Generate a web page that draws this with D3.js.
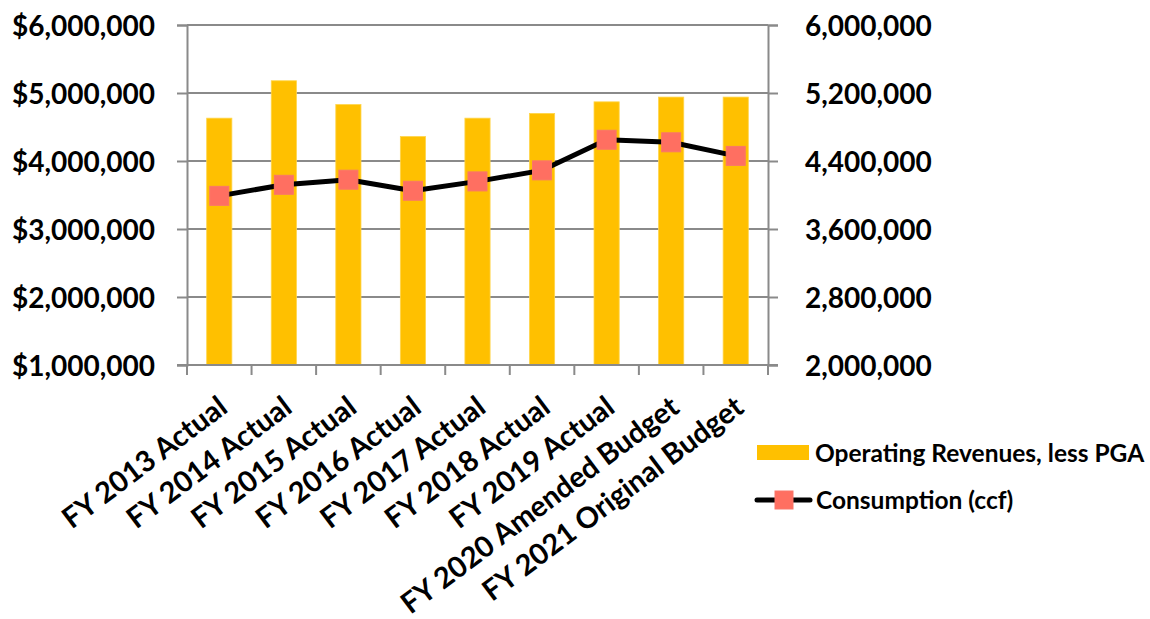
<!DOCTYPE html>
<html>
<head>
<meta charset="utf-8">
<script src="https://cdn.jsdelivr.net/npm/d3@7"></script>
<style>
  html, body { margin: 0; padding: 0; background: #fff; }
  svg { display: block; }
  text { font-family: Lato, "Open Sans", sans-serif; font-weight: 700; fill: #000; }
</style>
</head>
<body>
<svg id="chart" width="1150" height="619"></svg>
<script>
// Fiscal years shown along the category axis
const categories = [
  "FY 2013 Actual", "FY 2014 Actual", "FY 2015 Actual", "FY 2016 Actual",
  "FY 2017 Actual", "FY 2018 Actual", "FY 2019 Actual",
  "FY 2020 Amended Budget", "FY 2021 Original Budget"
];
// Operating revenues, less PGA (dollars) - left axis
const revenues = [4630000, 5180000, 4830000, 4360000, 4630000, 4700000, 4870000, 4940000, 4940000];
// Consumption in ccf - right axis
const consumption = [3990000, 4120000, 4180000, 4050000, 4160000, 4290000, 4650000, 4620000, 4460000];
// Axis ticks
const leftTicks = [1000000, 2000000, 3000000, 4000000, 5000000, 6000000];
const rightTicks = [2000000, 2800000, 3600000, 4400000, 5200000, 6000000];
const seriesNames = ["Operating Revenues, less PGA", "Consumption (ccf)"];

const svg = d3.select("#chart");
const plot = { left: 187, right: 768, top: 25, bottom: 365 };
const gridColor = "#8a8a8a";

const x = d3.scaleBand().domain(categories).range([plot.left, plot.right]).paddingInner(0.61).paddingOuter(0.305);
const xOuter = d3.scaleBand().domain(categories).range([plot.left, plot.right]);
const yL = d3.scaleLinear().domain([1000000, 6000000]).range([plot.bottom, plot.top]);
const yR = d3.scaleLinear().domain([2000000, 6000000]).range([plot.bottom, plot.top]);

// Horizontal gridlines
svg.append("g").selectAll("line").data(leftTicks).join("line")
  .attr("x1", plot.left).attr("x2", plot.right)
  .attr("y1", d => yL(d)).attr("y2", d => yL(d))
  .attr("stroke", gridColor).attr("stroke-width", 2);

// Bars
svg.append("g").selectAll("rect").data(revenues).join("rect")
  .attr("x", (d, i) => x(categories[i]))
  .attr("width", x.bandwidth())
  .attr("y", d => yL(d))
  .attr("height", d => yL(1000000) - yL(d))
  .attr("fill", "#FFC000")
  .attr("stroke", "#FFD54A").attr("stroke-width", 0.8);

// Left axis
const leftAxis = svg.append("g").attr("transform", `translate(${plot.left},0)`)
  .call(d3.axisLeft(yL).tickValues(leftTicks).tickFormat(d3.format("$,")).tickSize(10).tickPadding(22));
leftAxis.select(".domain").attr("stroke", gridColor).attr("stroke-width", 2);
leftAxis.selectAll(".tick line").attr("stroke", gridColor).attr("stroke-width", 2);
leftAxis.selectAll(".tick text").attr("font-size", 28).attr("font-family", null).attr("dy", "0.36em");

// Right axis
const rightAxis = svg.append("g").attr("transform", `translate(${plot.right},0)`)
  .call(d3.axisRight(yR).tickValues(rightTicks).tickFormat(d3.format(",")).tickSize(10).tickPadding(27));
rightAxis.select(".domain").attr("stroke", gridColor).attr("stroke-width", 2);
rightAxis.selectAll(".tick line").attr("stroke", gridColor).attr("stroke-width", 2);
rightAxis.selectAll(".tick text").attr("font-size", 28).attr("font-family", null).attr("dy", "0.36em");

// Category axis baseline with ticks at category boundaries
svg.append("line")
  .attr("x1", plot.left - 10).attr("x2", plot.right + 10)
  .attr("y1", plot.bottom).attr("y2", plot.bottom)
  .attr("stroke", gridColor).attr("stroke-width", 2);
const boundaries = categories.map(c => xOuter(c)).concat([plot.right]);
svg.append("g").selectAll("line").data(boundaries).join("line")
  .attr("x1", d => d).attr("x2", d => d)
  .attr("y1", plot.bottom).attr("y2", plot.bottom + 10)
  .attr("stroke", gridColor).attr("stroke-width", 2);

// Rotated category labels
svg.append("g").selectAll("text").data(categories).join("text")
  .attr("text-anchor", "end")
  .attr("font-size", 29)
  .attr("transform", d => `translate(${xOuter(d) + xOuter.bandwidth() / 2 + 10},${plot.bottom + 46}) rotate(-37)`)
  .text(d => d);

// Consumption line and markers
const cx = i => xOuter(categories[i]) + xOuter.bandwidth() / 2;
const line = d3.line().x((d, i) => cx(i)).y(d => yR(d));
svg.append("path").datum(consumption)
  .attr("d", line).attr("fill", "none")
  .attr("stroke", "#000").attr("stroke-width", 5).attr("stroke-linejoin", "round");
const ms = 19;
svg.append("g").selectAll("rect").data(consumption).join("rect")
  .attr("x", (d, i) => cx(i) - ms / 2).attr("y", d => yR(d) - ms / 2)
  .attr("width", ms).attr("height", ms)
  .attr("fill", "#FF6F61").attr("stroke", "#F9776A").attr("stroke-width", 1);

// Legend
const lg = svg.append("g");
lg.append("rect").attr("x", 757).attr("y", 445).attr("width", 52).attr("height", 15).attr("fill", "#FFC000");
lg.append("text").attr("x", 815).attr("y", 453).attr("dy", "0.36em").attr("font-size", 24.5).text(seriesNames[0]);
lg.append("line").attr("x1", 757).attr("x2", 810).attr("y1", 500).attr("y2", 500)
  .attr("stroke", "#000").attr("stroke-width", 5).attr("stroke-linecap", "round");
lg.append("rect").attr("x", 775).attr("y", 491).attr("width", 18).attr("height", 18)
  .attr("fill", "#FF6F61").attr("stroke", "#F9776A").attr("stroke-width", 1);
lg.append("text").attr("x", 816).attr("y", 500).attr("dy", "0.36em").attr("font-size", 24.5).text(seriesNames[1]);
</script>
</body>
</html>
